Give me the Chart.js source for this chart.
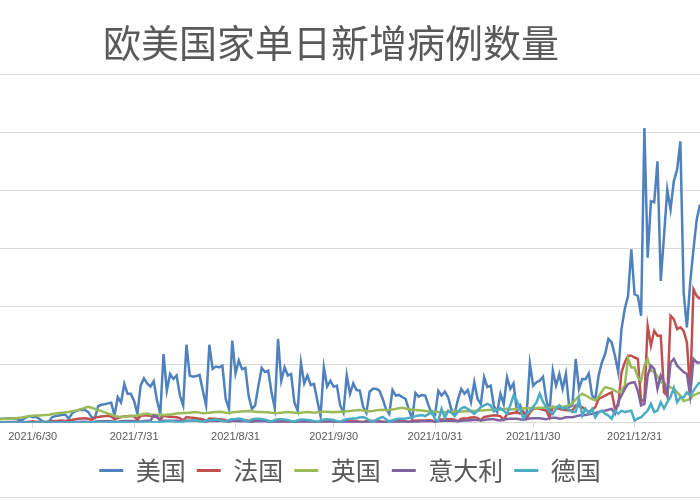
<!DOCTYPE html>
<html>
<head>
<meta charset="utf-8">
<title>欧美国家单日新增病例数量</title>
<script src="https://cdn.jsdelivr.net/npm/chart.js@4.4.0/dist/chart.umd.min.js"></script>
<style>
  html, body { margin: 0; padding: 0; background: #fff; }
  #wrap { position: relative; width: 700px; height: 500px; overflow: hidden; }
  #edge { position: absolute; left: 0; top: 497px; width: 700px; height: 1px; background: #d9d9d9; }
</style>
</head>
<body>
<div id="wrap">
  <canvas id="myChart" width="700" height="500"></canvas>
  <div id="edge"></div>
</div>
<script>
// daily dates from 2021/6/20, 215 days (to 2022/1/20)
var startDate = [2021, 6, 20];
var dayCount = 215;

// labelled ticks on the date axis
var tickLabels = ['2021/6/30', '2021/7/31', '2021/8/31', '2021/9/30', '2021/10/31', '2021/11/30', '2021/12/31'];

var seriesNames = ['美国', '法国', '英国', '意大利', '德国'];

// new cases per day, in thousands
var usCases = [
  14,14,16,16,16,14,8,11,19,23,
  19,21,14,5,3,5,20,23,25,28,
  28,14,32,40,44,44,44,37,19,16,
  57,62,64,67,69,25,88,70,134,100,
  100,75,31,128,153,136,125,143,77,31,
  237,111,168,151,163,94,60,269,163,159,
  161,165,111,60,269,186,194,191,197,82,
  48,283,170,215,185,189,94,48,60,128,
  189,175,180,105,50,289,145,191,163,168,
  70,42,207,136,163,130,134,77,23,191,
  125,145,124,128,60,35,164,100,136,113,
  111,55,34,107,117,117,111,82,48,31,
  113,94,96,88,82,45,14,103,90,96,
  94,60,31,27,110,94,107,88,45,31,
  80,117,100,113,72,140,82,65,157,123,
  128,58,37,100,65,157,117,136,40,60,
  35,30,203,128,140,145,159,80,37,180,
  128,168,117,168,54,60,220,117,151,150,
  170,95,82,163,208,237,289,277,231,174,
  323,392,437,598,443,437,369,1016,569,764,
  760,901,489,644,804,735,833,873,970,449,
  329,483,598,701,752
];

var franceCases = [
  2,2,3,3,3,3,2,2,3,4,
  5,4,4,3,2,3,5,6,7,8,
  6,8,10,12,14,15,16,14,10,18,
  20,22,23,24,22,12,16,20,22,23,
  24,22,10,24,26,25,24,22,20,10,
  24,22,21,20,19,16,8,20,18,17,
  16,14,12,6,15,14,13,12,11,9,
  4,12,11,10,10,9,7,3,9,8,
  8,7,6,3,7,6,6,6,5,4,
  2,5,5,5,5,5,4,2,5,5,
  5,5,5,4,2,5,5,5,5,5,
  4,2,6,6,6,6,5,4,2,6,
  6,6,6,6,5,2,7,7,8,8,
  8,9,8,3,10,11,11,12,12,11,
  5,14,15,16,18,19,17,8,20,22,
  24,26,25,22,10,30,32,34,36,32,
  38,14,36,47,50,48,45,42,18,55,
  52,48,45,44,42,42,60,57,54,45,
  37,45,54,82,88,94,100,105,48,60,
  174,208,231,231,225,220,71,82,334,266,
  317,300,300,105,94,369,357,323,329,317,
  277,105,460,437,426
];

var ukCases = [
  12,13,14,15,15,16,17,19,21,23,
  24,25,25,26,27,28,30,32,34,35,
  36,37,40,42,44,48,52,55,52,48,
  44,40,36,32,28,25,22,20,21,22,
  23,24,26,28,30,32,29,28,27,28,
  27,28,29,30,32,33,34,34,35,36,
  37,35,33,34,35,36,37,38,37,35,
  34,36,37,38,39,40,41,40,38,37,
  37,36,36,35,34,34,35,36,37,36,
  35,34,35,36,37,36,35,36,37,38,
  38,37,36,37,38,39,40,41,42,43,
  44,42,41,40,41,43,44,45,43,44,
  46,48,50,52,49,47,45,44,43,42,
  41,40,39,38,37,36,36,37,38,38,
  39,39,40,40,41,41,42,42,43,44,
  44,45,45,46,47,48,46,47,48,48,
  49,50,50,51,51,52,52,53,53,54,
  55,55,55,57,60,68,80,92,100,95,
  88,82,77,90,108,123,120,117,110,105,
  112,128,222,191,191,157,145,197,220,180,
  176,160,140,134,128,122,117,105,94,75,
  78,82,95,100,105
];

var italyCases = [
  1,1,1,1,1,1,1,1,1,1,
  1,1,1,1,1,1,2,2,2,2,
  2,2,2,3,3,4,4,3,2,4,
  5,5,5,5,5,4,3,5,6,6,
  6,6,5,4,6,7,8,25,22,6,
  7,7,7,7,7,6,5,7,7,7,
  7,6,5,4,6,6,6,6,6,5,
  4,6,6,5,5,5,4,3,5,5,
  5,5,4,3,2,4,4,4,4,4,
  3,2,4,4,4,4,3,3,2,3,
  3,3,3,3,3,2,3,3,3,3,
  3,3,2,3,3,3,3,3,3,2,
  3,4,4,4,4,4,3,4,4,5,
  5,5,5,4,5,6,7,7,7,6,
  5,7,8,8,9,10,10,8,10,11,
  12,12,10,8,12,13,14,14,14,12,
  10,14,15,16,16,16,14,12,16,17,
  17,14,16,19,19,19,22,25,26,27,
  29,31,34,37,40,42,45,48,31,71,
  94,117,134,138,140,110,60,65,163,197,
  186,117,163,140,94,208,220,197,186,175,
  168,94,220,208,208
];

var germanyCases = [
  1,1,1,1,1,1,1,1,1,1,
  1,1,1,1,1,1,1,1,1,1,
  1,1,2,2,2,1,1,2,2,2,
  3,2,1,1,3,3,3,3,2,1,
  1,2,2,3,3,3,3,2,2,4,
  4,5,5,5,3,2,5,6,7,8,
  8,5,3,8,9,10,11,10,6,4,
  10,12,13,15,12,8,5,12,14,14,
  13,11,7,4,10,12,12,11,10,6,
  3,9,11,11,10,9,5,3,8,11,
  12,11,10,6,3,9,12,14,15,16,
  18,20,15,8,3,10,16,20,12,3,
  8,12,14,14,15,17,19,23,25,27,
  23,30,39,12,8,48,17,42,35,23,
  38,50,54,48,40,31,42,54,60,65,
  60,39,45,50,42,31,60,94,77,48,
  14,30,40,55,70,100,72,55,40,30,
  48,60,48,54,45,37,37,82,25,48,
  31,48,19,35,42,31,25,14,42,31,
  42,37,40,42,8,15,19,31,42,65,
  37,42,71,50,71,90,120,71,88,88,
  105,94,110,128,140
];

var seriesColors = ['#4F81BD', '#C0504D', '#9BBB59', '#8064A2', '#4BACC6'];

var dayLabels = [];
for (var i = 0; i < dayCount; i++) {
  var d = new Date(startDate[0], startDate[1] - 1, startDate[2] + i);
  dayLabels.push(d.getFullYear() + '/' + (d.getMonth() + 1) + '/' + d.getDate());
}

var allSeries = [usCases, franceCases, ukCases, italyCases, germanyCases];
var datasets = allSeries.map(function (values, k) {
  return {
    label: seriesNames[k],
    data: values,
    borderColor: seriesColors[k],
    backgroundColor: seriesColors[k],
    borderWidth: 2.5,
    pointRadius: 0,
    fill: false,
    tension: 0,
    order: allSeries.length - k   // later series drawn on top, as in Excel
  };
});

var ctx = document.getElementById('myChart').getContext('2d');
var chart = new Chart(ctx, {
  type: 'line',
  data: {
    labels: dayLabels,
    datasets: datasets
  },
  options: {
    responsive: false,
    animation: false,
    layout: { padding: { left: 0, right: 0, top: 0, bottom: 7 } },
    plugins: {
      title: {
        display: true,
        // trailing ideographic space nudges the title a bit left, like the original
        text: '欧美国家单日新增病例数量\u3000',
        color: '#595959',
        font: { family: '"Noto Sans CJK SC", sans-serif', size: 38, weight: 'normal' },
        padding: { top: 20, bottom: 9 }
      },
      legend: {
        position: 'bottom',
        labels: {
          color: '#595959',
          font: { family: '"Noto Sans CJK SC", sans-serif', size: 25 },
          boxWidth: 24,
          boxHeight: 3,
          padding: 11,
          sort: function (a, b) { return a.datasetIndex - b.datasetIndex; },
          generateLabels: function (c) {
            return Chart.defaults.plugins.legend.labels.generateLabels(c).map(function (item) {
              item.lineWidth = 0;
              return item;
            });
          }
        }
      },
      tooltip: { enabled: false }
    },
    scales: {
      x: {
        grid: {
          drawOnChartArea: false,
          tickLength: 5,
          color: function (c) {
            return c.tick && c.tick.label ? '#d9d9d9' : 'rgba(0,0,0,0)';
          }
        },
        border: { color: '#d9d9d9' },
        ticks: {
          autoSkip: false,
          maxRotation: 0,
          minRotation: 0,
          padding: 3,
          color: '#595959',
          font: { family: '"Liberation Sans", sans-serif', size: 11 },
          callback: function (value) {
            var l = this.getLabelForValue(value);
            return tickLabels.indexOf(l) >= 0 ? l : null;
          }
        }
      },
      y: {
        min: 0,
        max: 1200,
        ticks: { stepSize: 200, display: false },
        grid: { color: '#d9d9d9', drawTicks: false },
        border: { display: false },
        afterFit: function (s) { s.width = 0; }
      }
    }
  }
});
</script>
</body>
</html>
